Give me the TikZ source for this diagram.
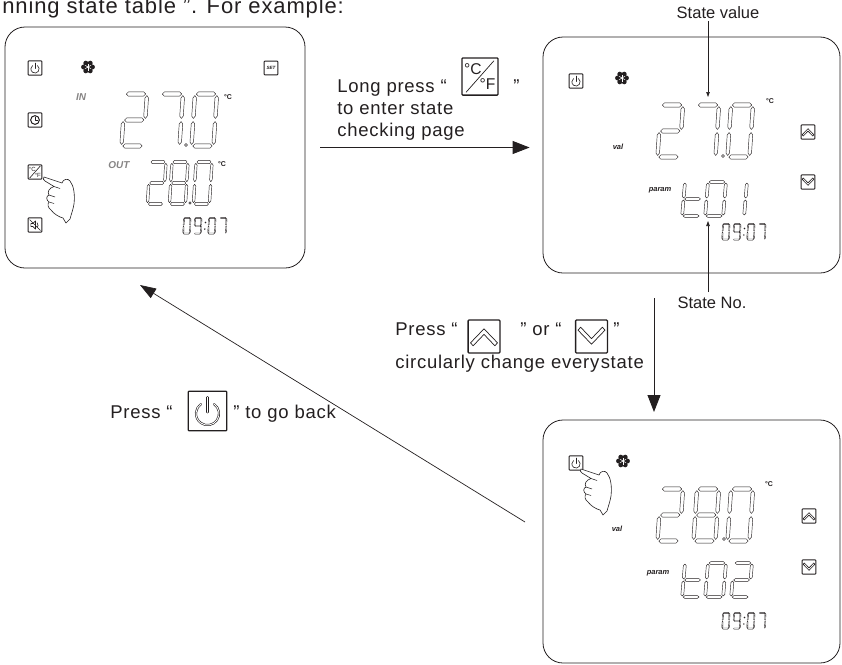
\documentclass[tikz,border=0pt]{standalone}
\usepackage{fontspec}
\setmainfont{Liberation Sans}
\usetikzlibrary{arrows.meta}

\definecolor{ink}{HTML}{231F20}

% segments of an LCD digit: the cell is 1 wide and 2 high, y runs down
\newcommand\lcdh[1]{(0.06,#1) -- (0.15,#1-0.08) -- (0.85,#1-0.08) -- (0.94,#1) -- (0.85,#1+0.08) -- (0.15,#1+0.08) -- cycle}
\newcommand\lcdv[2]{(#1,#2+0.06) -- (#1+0.08,#2+0.15) -- (#1+0.08,#2+0.85) -- (#1,#2+0.94) -- (#1-0.08,#2+0.85) -- (#1-0.08,#2+0.15) -- cycle}

\tikzset{
  seg/.style={draw=ink, line width=0.45pt, line join=round},
  pics/lcd0/.style={code={\draw[seg] \lcdh{0} \lcdv{1}{0} \lcdv{1}{1} \lcdh{2} \lcdv{0}{1} \lcdv{0}{0};}},
  pics/lcd1/.style={code={\draw[seg] \lcdv{1}{0} \lcdv{1}{1};}},
  pics/lcd2/.style={code={\draw[seg] \lcdh{0} \lcdv{1}{0} \lcdh{1} \lcdv{0}{1} \lcdh{2};}},
  pics/lcd7/.style={code={\draw[seg] \lcdh{0} \lcdv{1}{0} \lcdv{1}{1};}},
  pics/lcd8/.style={code={\draw[seg] \lcdh{0} \lcdv{1}{0} \lcdv{1}{1} \lcdh{2} \lcdv{0}{1} \lcdv{0}{0} \lcdh{1};}},
  pics/lcd9/.style={code={\draw[seg] \lcdh{0} \lcdv{1}{0} \lcdv{1}{1} \lcdh{2} \lcdv{0}{0} \lcdh{1};}},
  pics/lcdt/.style={code={\draw[seg] \lcdv{0}{0} \lcdv{0}{1} \lcdh{1} \lcdh{2};}},
  bigdigit/.style={xscale=22, yscale=26, xslant=0.08},
  middigit/.style={xscale=16, yscale=21, xslant=0.08},
  pardigit/.style={xscale=18, yscale=17, xslant=0.08},
  clkdigit/.style={xscale=6.5, yscale=7.8, xslant=0.06, seg/.append style={line width=0.35pt}},
}

% keys of the panel, drawn 12 wide around their centre
\tikzset{
  keyframe/.style={draw=ink, rounded corners=0.8pt},
  glyph/.style={draw=ink, line cap=round, line join=round},
  smallkey/.style={scale=1.15, line width=0.9pt, glyph/.append style={line width=0.6pt}},
  bigkey/.style={scale=#1, line width=1.3pt, glyph/.append style={line width=0.7pt}},
  pics/pwrkey/.style={code={
    \draw[keyframe] (-6,-6.2) rectangle (6,6.2);
    \draw[glyph] (0,0.8) ++(-55:3.6) arc[start angle=-55, end angle=235, radius=3.6];
    \draw[glyph] (0,-4.3) -- (0,0.4);
  }},
  pics/setkey/.style={code={
    \draw[keyframe] (-6,-6) rectangle (6,6);
    \node[transform shape, inner sep=0pt, text=ink, font=\fontsize{4}{4}\selectfont\bfseries\itshape] {SET};
  }},
  pics/clockkey/.style={code={
    \draw[keyframe] (-6,-6.2) rectangle (6,6.2);
    \draw[glyph, line width=1pt] (0,0) circle[radius=3.8];
    \draw[glyph] (0,-2.6) -- (0,0) -- (2.4,0);
  }},
  pics/unitkey/.style={code={
    \draw[keyframe] (-6,-6.2) rectangle (6,6.2);
    \draw[glyph] (-4.6,5.2) -- (4.6,-5.2);
    \node[transform shape, inner sep=0pt, text=ink, font=\fontsize{5.2}{5}\selectfont] at (-2.4,-2.6) {°C};
    \node[transform shape, inner sep=0pt, text=ink, font=\fontsize{5.2}{5}\selectfont] at (2.5,2.6) {°F};
  }},
  pics/mutekey/.style={code={
    \draw[keyframe] (-6,-6.2) rectangle (6,6.2);
    \draw[glyph] (-3.6,-1.3) -- (-1.8,-1.3) -- (0.4,-3.6) -- (0.4,3.6) -- (-1.8,1.3) -- (-3.6,1.3) -- cycle;
    \draw[glyph] (1.8,-2) arc[start angle=-50, end angle=50, radius=2.6];
    \draw[glyph] (-4.6,-4.6) -- (4.6,4.6);
  }},
  pics/upkey/.style={code={
    \draw[keyframe] (-6,-6.2) rectangle (6,6.2);
    \draw[glyph] (-5.1,2.4) -- (0,-2.9) -- (5.1,2.4) -- (4.1,3.5) -- (0,-0.8) -- (-4.1,3.5) -- cycle;
  }},
  pics/downkey/.style={code={
    \draw[keyframe] (-6,-6.2) rectangle (6,6.2);
    \draw[glyph] (-5.1,-2.4) -- (0,2.9) -- (5.1,-2.4) -- (4.1,-3.5) -- (0,0.8) -- (-4.1,-3.5) -- cycle;
  }},
  pics/snow/.style={code={
    \fill[ink] (0,0) circle[radius=4.4];
    \foreach \a in {0,60,...,300} \fill[ink] (\a:4.4) circle[radius=2.5];
    \foreach \a in {30,90,...,330} \draw[white, line width=0.5pt] (0,0) -- (\a:3.5);
    \fill[white] (0,0) circle[radius=1];
  }},
  % pointing hand, finger tip at the origin
  pics/hand/.style={code={
    \draw[draw=ink, fill=white, line width=0.6pt, line join=round]
      (0,0) -- (18,6)
      .. controls (19,2) and (24,1) .. (26,4)
      .. controls (30,9) and (31,18) .. (30,27)
      .. controls (29,33) and (27,38) .. (26,42)
      -- (22,46) -- (19,41)
      .. controls (15,40) and (10,37) .. (7,33)
      .. controls (4,31) and (3,27) .. (5,25)
      .. controls (2,23) and (2,19) .. (5,18)
      .. controls (3,15) and (5,11) .. (10,9.5)
      -- (1,4) .. controls (-1,3.5) and (-1,1) .. cycle;
    \draw[ink, line width=0.5pt] (10,9.5) -- (16,11.5) (5,18) -- (11,20) (5,25) -- (10,26.5);
  }},
}

% 09:07 with its top left corner at (#1,#2)
\newcommand\clocktime[2]{%
  \pic[clkdigit] at (#1,#2) {lcd0};
  \pic[clkdigit] at (#1+11,#2) {lcd9};
  \fill[ink] (#1+21.5,#2+4.5) circle[radius=0.8] (#1+20.8,#2+11) circle[radius=0.8];
  \pic[clkdigit] at (#1+25,#2) {lcd0};
  \pic[clkdigit] at (#1+36,#2) {lcd7};}

\begin{document}
\begin{tikzpicture}[x=1pt, y=-1pt, line width=0.6pt,
  screen/.style={draw=ink, line width=0.8pt, rounded corners=20pt, inner sep=0pt},
  note/.style={font=\fontsize{18.5}{22}\selectfont\addfontfeature{LetterSpace=4}, text=ink, inner sep=0pt, anchor=base west},
  callout/.style={font=\fontsize{16.5}{20}\selectfont, text=ink, inner sep=0pt, anchor=base},
  tag/.style={font=\fontsize{7.5}{8}\selectfont\bfseries\itshape, text=ink, inner sep=0pt},
  hollowtag/.style={font=\fontsize{10}{10}\selectfont\bfseries\itshape, text=ink!55, inner sep=0pt},
  unit/.style={font=\fontsize{7}{7}\selectfont\bfseries, text=ink, inner sep=0pt},
  bigarrow/.style={draw=ink, line width=0.9pt, -{Triangle[length=17pt, width=13pt]}},
  backarrow/.style={draw=ink, line width=0.7pt, -{Triangle[length=16pt, width=11pt]}},
  pointer/.style={draw=ink, line width=0.6pt, -{Triangle[length=5pt, width=3.5pt]}}]

  \useasboundingbox (0,0) rectangle (842,664);

  % end of the sentence above
  \node[note, font=\fontsize{22}{26}\selectfont\addfontfeature{LetterSpace=4}] (intro) at (2,13.5) {nning state table ”. For example:};

  % Normal display.
  \node[screen, minimum width=300pt, minimum height=241pt] (home) at (155,147.5) {};
  \pic[smallkey] at (35,68) {pwrkey};
  \pic at (88,67) {snow};
  \pic[smallkey] at (271,68) {setkey};
  \node[hollowtag] (in) at (81,97) {IN};
  \pic[smallkey] at (35,120) {clockkey};
  \pic[smallkey] at (35,172) {unitkey};
  \pic at (44,177) {hand};
  \pic[smallkey] at (35,225) {mutekey};
  \node[hollowtag] (out) at (119,165) {OUT};
  \pic[bigdigit] at (125,94) {lcd2};
  \pic[bigdigit] at (161,94) {lcd7};
  \pic[bigdigit] at (195,94) {lcd0};
  \draw[seg] (186,145) circle[radius=1.5];
  \node[unit] at (228,97) {°C};
  \pic[middigit] at (150,162) {lcd2};
  \pic[middigit] at (172,162) {lcd8};
  \pic[middigit] at (196,162) {lcd0};
  \draw[seg] (190,203) circle[radius=1.3];
  \node[unit] at (222,164) {°C};
  \clocktime{184}{218}

  % State checking page.
  \node[screen, minimum width=297pt, minimum height=236pt] (check) at (691.5,155) {};
  \pic[smallkey] at (576,81) {pwrkey};
  \pic at (622,78) {snow};
  \node[tag] (val1) at (618,147) {val};
  \node[tag] (param1) at (660,190) {param};
  \pic[bigdigit] at (661,105) {lcd2};
  \pic[bigdigit] at (697,105) {lcd7};
  \pic[bigdigit] at (731,105) {lcd0};
  \draw[seg] (723,156) circle[radius=1.5];
  \node[unit] at (770,101) {°C};
  \pic[smallkey] at (808,132) {upkey};
  \pic[smallkey] at (808,182) {downkey};
  \pic[pardigit] at (685,182) {lcdt};
  \pic[pardigit] at (708,182) {lcd0};
  \pic[pardigit] at (729,182) {lcd1};
  \clocktime{723}{224}

  % Next state.
  \node[screen, minimum width=297pt, minimum height=243pt] (next) at (691.5,541.5) {};
  \pic[smallkey] at (576,463) {pwrkey};
  \pic at (581,469) {hand};
  \pic at (623,461) {snow};
  \node[tag] (val2) at (617,529) {val};
  \node[tag] (param2) at (658,573) {param};
  \pic[bigdigit] at (661,489) {lcd2};
  \pic[bigdigit] at (697,489) {lcd8};
  \pic[bigdigit] at (731,489) {lcd0};
  \draw[seg] (724,539) circle[radius=1.5];
  \node[unit] at (769,484) {°C};
  \pic[smallkey] at (809,516) {upkey};
  \pic[smallkey] at (809,567) {downkey};
  \pic[pardigit] at (685,563) {lcdt};
  \pic[pardigit] at (708,563) {lcd0};
  \pic[pardigit] at (734,563) {lcd2};
  \clocktime{723}{613}

  % callouts on the checking page
  \coordinate (svtip) at (708,97);
  \node[callout] (sval) at (718,18) {State value};
  \draw[pointer] ([yshift=-3pt]sval.base -| svtip) -- (svtip);
  \coordinate (sntip) at (708,221);
  \node[callout] (sno) at (712,308) {State No.};
  \draw[pointer] ([yshift=16pt]sno.base -| sntip) -- (sntip);

  % Step 1: enter the checking page.
  \node[note] (lp1) at (337,92) {Long press “};
  \pic[bigkey=3] at (480,76.5) {unitkey};
  \node[note] (lp2) at (513,92) {”};
  \node[note] (lp3) at (337,114) {to enter state};
  \node[note] (lp4) at (337,136) {checking page};
  \draw[bigarrow] ([xshift=15pt]home.east) -- ([xshift=-13pt]check.west |- home.east);

  % Step 2: step through the states.
  \node[note] (cy1) at (395,335) {Press “};
  \pic[bigkey=2.65] at (484,336.5) {upkey};
  \node[note] (cy2) at (520,335) {” or “};
  \pic[bigkey=2.65] at (591.5,336.5) {downkey};
  \node[note] (cy3) at (613,335) {”};
  \node[note] (cy4) at (395,368) {circularly change every\kern1.5pt state};
  \coordinate (turn) at (654,298);
  \coordinate (turnend) at (654,412);
  \draw[bigarrow] (turn) -- (turnend);

  % Step 3: back to the normal display.
  \node[note] (bk1) at (110,418) {Press “};
  \pic[bigkey=3.2, glyph/.append style={double=white, double distance=0.9pt, line width=0.6pt}] at (207.5,411) {pwrkey};
  \node[note] (bk2) at (233,418) {” to go back};
  \coordinate (back) at (525,522);
  \coordinate (backend) at (140,285);
  \draw[backarrow] (back) -- (backend);
\end{tikzpicture}
\end{document}
